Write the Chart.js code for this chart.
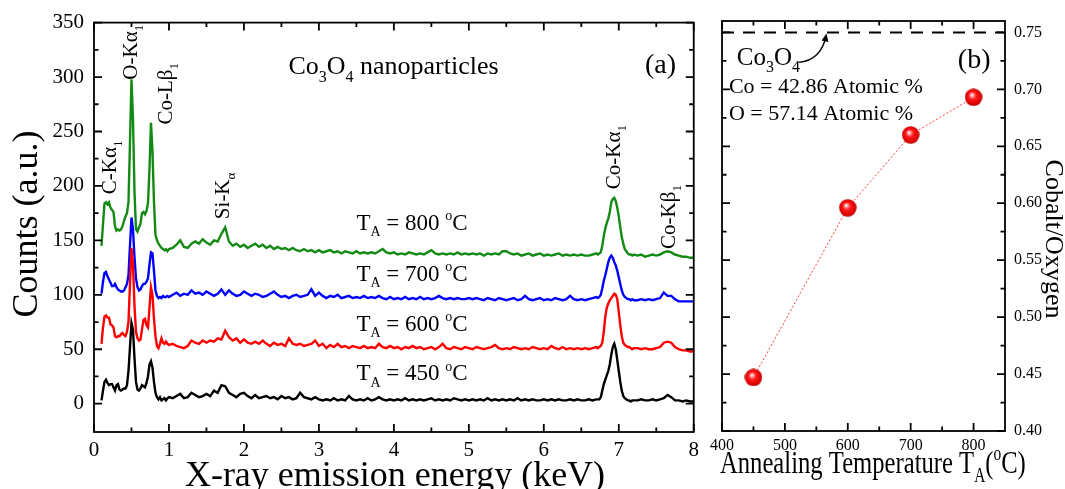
<!DOCTYPE html>
<html>
<head>
<meta charset="utf-8">
<script src="https://cdn.jsdelivr.net/npm/chart.js@4.4.1/dist/chart.umd.min.js"></script>
<style>
  html, body { margin: 0; padding: 0; background: #fff; }
  #wrap { position: relative; width: 1065px; height: 489px; overflow: hidden; }
  #wrap canvas { position: absolute; top: 0; }
  #spectra { left: 0; }
  #ratio { left: 705px; }
</style>
</head>
<body>
<div id="wrap">
  <canvas id="spectra" width="705" height="489"></canvas>
  <canvas id="ratio" width="360" height="489"></canvas>
</div>
<script>
// ---- EDX spectra (panel a) ----
// energy grid: fine steps around the low-energy peaks and Co-Ka, coarser elsewhere
const energyKeV = [
  0.10,0.12,0.14,0.16,0.18,0.20,0.22,0.24,0.26,0.28,
  0.30,0.32,0.34,0.36,0.38,0.40,0.42,0.44,0.46,0.48,
  0.50,0.52,0.54,0.56,0.58,0.60,0.62,0.64,0.66,0.68,
  0.70,0.72,0.74,0.76,0.78,0.80,0.82,0.84,0.86,0.88,
  0.90,0.92,0.94,0.96,0.98,1.00,
  1.05,1.10,1.15,1.20,1.25,1.30,1.35,1.40,1.45,1.50,
  1.55,1.60,1.65,1.70,1.75,1.80,1.85,1.90,1.95,2.00,
  2.05,2.10,2.15,2.20,2.25,2.30,2.35,2.40,2.45,2.50,
  2.55,2.60,2.65,2.70,2.75,2.80,2.85,2.90,2.95,3.00,
  3.05,3.10,3.15,3.20,3.25,3.30,3.35,3.40,3.45,3.50,
  3.55,3.60,3.65,3.70,3.75,3.80,3.85,3.90,3.95,4.00,
  4.05,4.10,4.15,4.20,4.25,4.30,4.35,4.40,4.45,4.50,
  4.55,4.60,4.65,4.70,4.75,4.80,4.85,4.90,4.95,5.00,
  5.05,5.10,5.15,5.20,5.25,5.30,5.35,5.40,5.45,5.50,
  5.55,5.60,5.65,5.70,5.75,5.80,5.85,5.90,5.95,6.00,
  6.05,6.10,6.15,6.20,6.25,6.30,6.35,6.40,6.45,6.50,
  6.55,6.60,6.65,6.70,
  6.72,6.74,6.76,6.78,6.80,6.82,6.84,6.86,6.88,6.90,
  6.92,6.94,6.96,6.98,7.00,7.02,7.04,7.06,7.08,7.10,
  7.12,7.14,7.16,7.18,7.20,
  7.25,7.30,7.35,7.40,7.45,7.50,7.55,7.60,7.65,7.70,
  7.75,7.80,7.85,7.90,7.95,8.00
];

const counts450 = [
  3,12,20,22,19,17,18,18,15,12,
  17,18,13,12,13,14,14,17,30,52,
  74,68,42,20,13,12,14,17,16,15,
  19,25,36,39,33,20,10,6,4,6,
  3,4,5,3,5,6,
  5,7,9,5,6,10,8,6,7,9,
  7,12,10,17,16,10,8,6,9,10,
  7,5,8,5,6,7,5,6,4,7,
  5,6,4,5,10,6,5,4,6,4,
  3,4,3,5,3,4,3,7,4,3,
  4,3,5,3,4,6,4,3,4,3,
  4,3,5,3,4,3,4,3,4,5,
  3,4,3,4,3,5,4,3,4,3,
  4,3,4,3,5,3,4,3,4,3,
  4,3,5,3,4,3,4,3,3,4,
  3,4,3,4,3,3,4,3,4,3,
  3,4,3,4,
  4,4,6,12,18,22,26,30,36,45,
  52,55,50,40,30,20,12,7,5,4,
  3,3,2,3,3,
  3,4,3,3,4,3,4,5,8,6,
  3,3,2,3,2,2
];

const counts600 = [
  55,70,80,81,79,79,73,72,70,62,
  61,62,62,64,65,63,62,66,75,110,
  143,128,90,66,60,58,59,68,77,78,
  72,70,88,107,100,78,62,53,51,55,
  60,56,55,57,55,54,
  55,53,52,51,53,58,56,55,58,56,
  58,57,60,59,67,61,58,60,56,59,
  56,55,57,55,58,55,53,56,54,55,
  53,60,55,54,55,53,54,55,58,53,
  55,51,54,52,55,52,53,51,53,52,
  51,53,51,52,51,55,52,51,53,51,
  52,50,52,51,53,51,52,50,51,52,
  50,52,55,51,50,52,51,50,52,51,
  50,52,51,50,51,52,54,51,50,51,
  50,52,51,50,51,50,52,51,50,51,
  50,53,51,50,52,50,51,50,51,50,
  51,50,51,52,
  51,52,53,56,66,80,88,92,95,97,
  99,101,100,96,84,72,62,56,54,53,
  52,52,51,50,51,
  51,50,51,50,50,51,52,56,57,56,
  52,50,49,49,48,48
];

const counts700 = [
  101,112,120,121,117,114,111,108,108,110,
  107,105,104,103,103,104,107,110,118,145,
  171,160,135,115,107,104,105,108,110,110,
  112,115,128,139,138,122,104,99,97,98,
  97,99,98,98,99,98,
  100,102,99,101,100,104,101,102,100,103,
  101,99,101,105,100,104,101,99,100,103,
  101,99,101,100,98,99,101,103,100,98,
  99,97,99,100,98,99,100,105,99,102,
  99,97,99,98,100,97,98,99,97,98,
  97,99,97,98,97,99,97,96,98,96,
  97,96,98,96,97,96,98,96,97,96,
  97,99,97,96,97,96,97,96,96,97,
  96,97,96,95,97,96,95,97,96,95,
  96,97,95,96,99,96,95,96,97,95,
  96,95,97,96,95,96,99,96,95,96,
  95,96,97,98,
  97,98,100,106,113,118,124,130,134,136,
  134,130,127,122,116,110,104,100,98,97,
  96,96,95,96,95,
  95,96,95,96,95,96,97,102,99,99,
  96,94,94,94,94,94
];

const counts800 = [
  145,165,184,185,183,185,180,178,176,163,
  159,160,159,160,163,168,172,175,185,240,
  298,262,195,160,158,162,165,175,176,174,
  177,184,215,258,232,185,155,150,147,145,
  143,142,141,142,140,142,
  143,146,150,144,143,147,149,147,151,148,
  146,150,149,156,162,149,145,147,144,146,
  143,145,147,144,146,143,145,142,144,142,
  143,141,143,141,140,142,140,141,139,141,
  139,140,141,139,140,138,140,139,138,140,
  138,139,138,139,138,140,142,139,138,139,
  137,138,137,139,138,137,138,137,139,141,
  138,137,138,137,138,137,139,137,138,137,
  138,137,138,136,138,137,138,137,140,140,
  138,137,138,136,137,138,136,137,138,136,
  137,136,137,138,136,137,136,137,136,137,
  136,136,137,138,
  137,138,139,145,154,161,166,170,176,185,
  188,189,186,180,172,162,153,147,142,140,
  138,137,137,136,137,
  136,137,135,136,137,136,137,139,140,139,
  137,136,135,135,134,134
];

const spectra = [
  { temp: 450, counts: counts450, color: '#000000' },
  { temp: 600, counts: counts600, color: '#ff0000' },
  { temp: 700, counts: counts700, color: '#0000ff' },
  { temp: 800, counts: counts800, color: '#138a13' }
];

const energyTicks = [0, 1, 2, 3, 4, 5, 6, 7, 8];
const energyMinor = [0.5, 1.5, 2.5, 3.5, 4.5, 5.5, 6.5, 7.5];
const countTicks = [0, 50, 100, 150, 200, 250, 300, 350];
const countMinor = [25, 75, 125, 175, 225, 275, 325];

// ---- Co/O ratio vs annealing temperature (panel b) ----
const annealTemp = [450, 600, 700, 800];
const coOxRatio = [0.447, 0.596, 0.660, 0.693];
const co3o4Ratio = 0.75;
const tempTicks = [400, 500, 600, 700, 800];
const tempMinor = [450, 550, 650, 750];
const ratioTicks = [0.40, 0.45, 0.50, 0.55, 0.60, 0.65, 0.70, 0.75];
const ratioMinor = [0.425, 0.475, 0.525, 0.575, 0.625, 0.675, 0.725];

const SERIF = '"Liberation Serif", "Times New Roman", serif';
Chart.defaults.font.family = SERIF;
Chart.defaults.color = '#000';

// text runs: 'plain' or [text, 'sub' | 'sup']
function drawRich(ctx, parts, x, y, size, align) {
  const runs = parts.map(p => typeof p === 'string' ? [p, ''] : p);
  const fontFor = k => `${k ? Math.round(size * 0.62) : size}px ${SERIF}`;
  let w = 0;
  for (const [t, k] of runs) { ctx.font = fontFor(k); w += ctx.measureText(t).width; }
  let cx = align === 'center' ? x - w / 2 : x;
  ctx.textAlign = 'left';
  ctx.textBaseline = 'alphabetic';
  for (const [t, k] of runs) {
    ctx.font = fontFor(k);
    const dy = k === 'sub' ? size * 0.28 : k === 'sup' ? -size * 0.42 : 0;
    ctx.fillText(t, cx, y + dy);
    cx += ctx.measureText(t).width;
  }
}

function textLayer(items) {
  return {
    id: 'textLayer',
    afterDraw(chart) {
      const { ctx, scales: { x, y } } = chart;
      ctx.save();
      ctx.fillStyle = '#000';
      for (const n of items) {
        const px = n.data ? x.getPixelForValue(n.data[0]) : n.px[0];
        const py = n.data ? y.getPixelForValue(n.data[1]) : n.px[1];
        ctx.save();
        ctx.translate(px, py);
        if (n.rot) ctx.rotate(n.rot * Math.PI / 180);
        if (n.sx) ctx.scale(n.sx, 1);
        drawRich(ctx, n.parts, 0, 0, n.size, n.align);
        ctx.restore();
      }
      ctx.restore();
    }
  };
}

// closed frame with inward ticks on all four sides
function frameTicks(t) {
  return {
    id: 'frameTicks',
    afterDatasetsDraw(chart) {
      const { ctx, chartArea: a, scales: { x, y } } = chart;
      ctx.save();
      ctx.strokeStyle = '#000';
      ctx.lineWidth = 1.8;
      ctx.beginPath();
      const vert = (vals, len) => vals.forEach(v => {
        const p = x.getPixelForValue(v);
        ctx.moveTo(p, a.bottom); ctx.lineTo(p, a.bottom - len);
        ctx.moveTo(p, a.top); ctx.lineTo(p, a.top + len);
      });
      const horiz = (vals, len) => vals.forEach(v => {
        const p = y.getPixelForValue(v);
        ctx.moveTo(a.left, p); ctx.lineTo(a.left + len, p);
        ctx.moveTo(a.right, p); ctx.lineTo(a.right - len, p);
      });
      vert(t.xMajor, 8); vert(t.xMinor, 4.5);
      horiz(t.yMajor, 8); horiz(t.yMinor, 4.5);
      ctx.stroke();
      ctx.strokeRect(a.left, a.top, a.right - a.left, a.bottom - a.top);
      ctx.restore();
    }
  };
}

function fixedTicks(vals) {
  return scale => { scale.ticks = vals.map(v => ({ value: v })); };
}

const noGrid = { display: false, drawTicks: false };

// ---- panel (a) ----
const alpha = '\u03b1', beta = '\u03b2';
new Chart(document.getElementById('spectra'), {
  type: 'line',
  data: {
    datasets: spectra.map(s => ({
      label: `T_A = ${s.temp} °C`,
      data: energyKeV.map((e, i) => ({ x: e, y: s.counts[i] })),
      borderColor: s.color,
      borderWidth: 2.4,
      pointRadius: 0,
      tension: 0
    }))
  },
  options: {
    responsive: false,
    animation: false,
    layout: { padding: { top: 21, right: 10, left: 0, bottom: 0 } },
    plugins: { legend: { display: false }, tooltip: { enabled: false } },
    scales: {
      x: {
        type: 'linear', min: 0, max: 8,
        grid: noGrid, border: { display: false },
        afterBuildTicks: fixedTicks(energyTicks),
        afterFit: s => { s.height = 57; },
        ticks: { font: { size: 21 }, padding: 6, maxRotation: 0 }
      },
      y: {
        min: -26, max: 350,
        grid: noGrid, border: { display: false },
        afterBuildTicks: fixedTicks(countTicks),
        afterFit: s => { s.width = 94; },
        ticks: { font: { size: 21 }, padding: 10 }
      }
    }
  },
  plugins: [
    frameTicks({ xMajor: energyTicks, xMinor: energyMinor, yMajor: countTicks, yMinor: countMinor }),
    textLayer([
      { parts: ['X-ray emission energy (keV)'], px: [395, 486], size: 36, align: 'center' },
      { parts: ['Counts (a.u.)'], px: [37, 224], size: 36, align: 'center', rot: -90 },
      { parts: ['Co', ['3', 'sub'], 'O', ['4', 'sub'], ' nanoparticles'], data: [2.593, 302.5], size: 26 },
      { parts: ['(a)'], data: [7.35, 303.4], size: 28 },
      { parts: ['C-K' + alpha, ['1', 'sub']], data: [0.30, 192.4], size: 21, rot: -90 },
      { parts: ['O-K' + alpha, ['1', 'sub']], data: [0.58, 297.6], size: 21, rot: -90 },
      { parts: ['Co-L' + beta, ['1', 'sub']], data: [1.047, 256.4], size: 21, rot: -90 },
      { parts: ['Si-K', [alpha, 'sub']], data: [1.807, 169.5], size: 21, rot: -90 },
      { parts: ['Co-K' + alpha, ['1', 'sub']], data: [7.02, 197], size: 21, rot: -90 },
      { parts: ['Co-K' + beta, ['1', 'sub']], data: [7.753, 142.1], size: 21, rot: -90 },
      { parts: ['T', ['A', 'sub'], ' = 800 ', ['o', 'sup'], 'C'], data: [3.5, 159.5], size: 23 },
      { parts: ['T', ['A', 'sub'], ' = 700 ', ['o', 'sup'], 'C'], data: [3.5, 112.8], size: 23 },
      { parts: ['T', ['A', 'sub'], ' = 600 ', ['o', 'sup'], 'C'], data: [3.5, 67.1], size: 23 },
      { parts: ['T', ['A', 'sub'], ' = 450 ', ['o', 'sup'], 'C'], data: [3.5, 21.3], size: 23 }
    ])
  ]
});

// ---- panel (b) ----
function sphere(d) {
  const c = document.createElement('canvas');
  c.width = c.height = d;
  const g = c.getContext('2d');
  const r = d / 2;
  const grad = g.createRadialGradient(r * 0.8, r * 0.7, 0, r, r, r);
  grad.addColorStop(0, '#ffffff');
  grad.addColorStop(0.16, '#ffb0b0');
  grad.addColorStop(0.42, '#ff1a1a');
  grad.addColorStop(0.85, '#dd0000');
  grad.addColorStop(1, '#a00000');
  g.fillStyle = grad;
  g.beginPath();
  g.arc(r, r, r - 0.3, 0, Math.PI * 2);
  g.fill();
  return c;
}

const arrowToLine = {
  id: 'arrowToLine',
  afterDatasetsDraw(chart) {
    const { ctx, scales: { x, y } } = chart;
    const p = (a, b) => [x.getPixelForValue(a), y.getPixelForValue(b)];
    const s = p(521.9, 0.7237), c = p(557.8, 0.7254), e = p(565.6, 0.7474);
    ctx.save();
    ctx.strokeStyle = '#000';
    ctx.fillStyle = '#000';
    ctx.lineWidth = 1.4;
    ctx.beginPath();
    ctx.moveTo(s[0], s[1]);
    ctx.quadraticCurveTo(c[0], c[1], e[0], e[1]);
    ctx.stroke();
    const ang = Math.atan2(e[1] - c[1], e[0] - c[0]);
    ctx.translate(e[0], e[1]);
    ctx.rotate(ang);
    ctx.beginPath();
    ctx.moveTo(2, 0);
    ctx.lineTo(-6, -3.5);
    ctx.lineTo(-6, 3.5);
    ctx.closePath();
    ctx.fill();
    ctx.restore();
  }
};

new Chart(document.getElementById('ratio'), {
  type: 'line',
  data: {
    datasets: [
      {
        label: 'Cobalt/Oxygen',
        data: annealTemp.map((t, i) => ({ x: t, y: coOxRatio[i] })),
        borderColor: '#ff3b3b',
        borderWidth: 1,
        borderDash: [2, 2],
        pointStyle: sphere(18),
        pointRadius: 9,
        tension: 0
      },
      {
        label: 'Co3O4',
        data: [{ x: 400, y: co3o4Ratio }, { x: 850, y: co3o4Ratio }],
        borderColor: '#000',
        borderWidth: 2,
        borderDash: [12, 9],
        pointRadius: 0
      }
    ]
  },
  options: {
    responsive: false,
    animation: false,
    layout: { padding: { top: 21, left: 12, right: 0, bottom: 0 } },
    plugins: { legend: { display: false }, tooltip: { enabled: false } },
    scales: {
      x: {
        type: 'linear', min: 400, max: 850,
        grid: noGrid, border: { display: false },
        afterBuildTicks: fixedTicks(tempTicks),
        afterFit: s => { s.height = 58; },
        ticks: { font: { size: 16 }, padding: 5, maxRotation: 0 }
      },
      y: {
        position: 'right',
        min: 0.40, max: 0.76,
        grid: noGrid, border: { display: false },
        afterBuildTicks: fixedTicks(ratioTicks),
        afterFit: s => { s.width = 60; },
        ticks: { font: { size: 16 }, padding: 9, callback: v => v.toFixed(2) }
      }
    }
  },
  plugins: [
    frameTicks({ xMajor: tempTicks, xMinor: tempMinor, yMajor: ratioTicks, yMinor: ratioMinor }),
    arrowToLine,
    textLayer([
      { parts: ['Annealing Temperature T', ['A', 'sub'], '(', ['o', 'sup'], 'C)'], px: [15, 473], size: 32, sx: 0.77 },
      { parts: ['Cobalt/Oxygen'], px: [341, 239], size: 26, align: 'center', rot: 90 },
      { parts: ['Co', ['3', 'sub'], 'O', ['4', 'sub']], data: [423.4, 0.7214], size: 25 },
      { parts: ['Co = 42.86 Atomic %'], data: [411, 0.6968], size: 22 },
      { parts: ['O = 57.14 Atomic %'], data: [411, 0.6731], size: 22 },
      { parts: ['(b)'], data: [775, 0.7187], size: 28 }
    ])
  ]
});
</script>
</body>
</html>
